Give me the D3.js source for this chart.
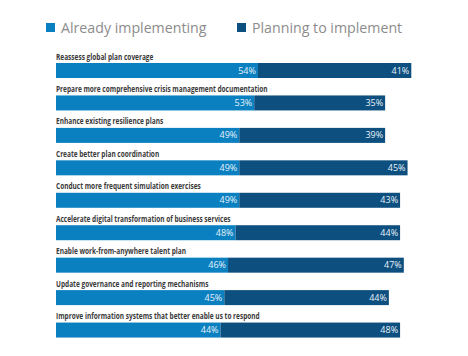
<!DOCTYPE html>
<html>
<head>
<meta charset="utf-8">
<script src="https://cdn.jsdelivr.net/npm/d3@7"></script>
<style>
  html, body { margin: 0; padding: 0; background: #ffffff; }
  svg { display: block; }
</style>
</head>
<body>
<svg id="chart" width="468" height="356"></svg>
<script>
const categories = [
  "Reassess global plan coverage",
  "Prepare more comprehensive crisis management documentation",
  "Enhance existing resilience plans",
  "Create better plan coordination",
  "Conduct more frequent simulation exercises",
  "Accelerate digital transformation of business services",
  "Enable work-from-anywhere talent plan",
  "Update governance and reporting mechanisms",
  "Improve information systems that better enable us to respond"
];
const already = [54, 53, 49, 49, 49, 48, 46, 45, 44];
const planning = [41, 35, 39, 45, 43, 44, 47, 44, 48];
const seriesNames = ["Already implementing", "Planning to implement"];
const colors = ["#0a80c0", "#0d4f7f"];

const svg = d3.select("#chart");
const x = d3.scaleLinear().domain([0, 100]).range([56, 430]);
const y = d3.scaleBand().domain(categories).range([46, 338]).paddingInner(0).paddingOuter(0);
const barH = 15;
const barOffset = 17;

// legend
const legX = [46, 237];
seriesNames.forEach((name, i) => {
  const g = svg.append("g").attr("transform", `translate(${legX[i]},0)`);
  g.append("rect").attr("x", 0).attr("y", 23).attr("width", 9).attr("height", 9).attr("fill", colors[i]);
  g.append("text").attr("x", 15).attr("y", 33)
    .attr("font-family", "Open Sans").attr("font-size", 14.2).attr("font-weight", 400)
    .attr("fill", "#8c8c8c").text(name);
});

const rows = svg.selectAll("g.row").data(categories).enter().append("g").attr("class", "row")
  .attr("transform", d => `translate(0,${y(d)})`);

rows.append("text")
  .attr("transform", `translate(56,13.5) scale(0.68,1)`)
  .attr("font-family", "Open Sans").attr("font-weight", 700).attr("font-size", 9.6)
  .attr("fill", "#3a3a3a").text(d => d);

rows.each(function(d, i) {
  const g = d3.select(this);
  const a = already[i], p = planning[i];
  g.append("rect").attr("x", x(0)).attr("y", barOffset).attr("width", x(a) - x(0)).attr("height", barH).attr("fill", colors[0]);
  g.append("rect").attr("x", x(a)).attr("y", barOffset).attr("width", x(a + p) - x(a)).attr("height", barH).attr("fill", colors[1]);
  g.append("text").attr("x", x(a) - 2).attr("y", barOffset + barH / 2 + 3)
    .attr("text-anchor", "end").attr("font-family", "Open Sans").attr("font-size", 9)
    .attr("fill", "#e8f2fa").text(a + "%");
  g.append("text").attr("x", x(a + p) - 2).attr("y", barOffset + barH / 2 + 3)
    .attr("text-anchor", "end").attr("font-family", "Open Sans").attr("font-size", 9)
    .attr("fill", "#e8f2fa").text(p + "%");
});
</script>
</body>
</html>
